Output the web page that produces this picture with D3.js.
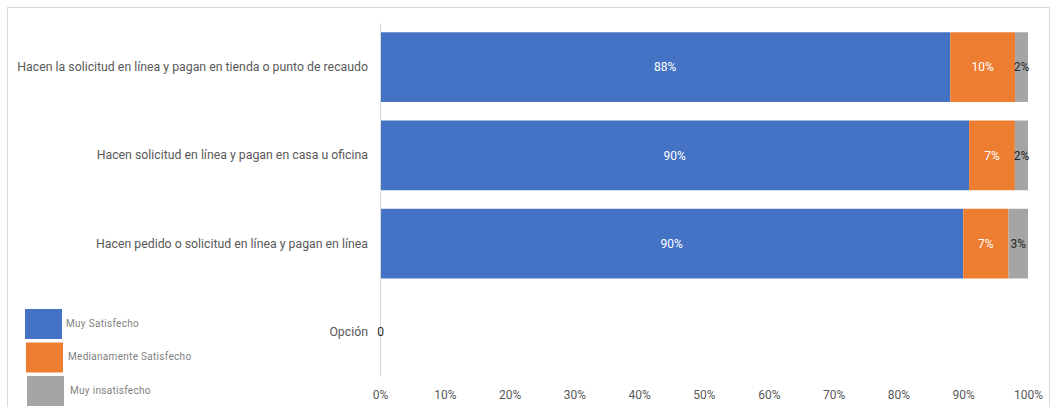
<!DOCTYPE html>
<html>
<head>
<meta charset="utf-8">
<script src="https://cdn.jsdelivr.net/npm/d3@7"></script>
<style>
  body { margin: 0; background: #fff; }
  svg { display: block; font-family: Roboto, "Liberation Sans", sans-serif; }
</style>
</head>
<body>
<div id="chart"></div>
<script>
// data (raw answers, chart is 100% stacked)
var categories = [
    "Hacen la solicitud en línea y pagan en tienda o punto de recaudo",
    "Hacen solicitud en línea y pagan en casa u oficina",
    "Hacen pedido o solicitud en línea y pagan en línea",
    "Opción"
];
var seriesNames = ["Muy Satisfecho", "Medianamente Satisfecho", "Muy insatisfecho"];
var muySatisfecho = [88, 90, 90, 0];
var medianamente = [10, 7, 7, 0];
var muyInsatisfecho = [2, 2, 3, 0];
var xTicks = [0, 0.1, 0.2, 0.3, 0.4, 0.5, 0.6, 0.7, 0.8, 0.9, 1];

var colors = ["#4472C4", "#ED7D31", "#A5A5A5"];
var labelColors = ["#ffffff", "#ffffff", "#262626"];

var svgWidth = 1059;
var svgHeight = 407;
var margin = { top: 23, right: 31, bottom: 31, left: 380 };
var width = svgWidth - margin.left - margin.right;
var height = svgHeight - margin.top - margin.bottom;

var svg = d3.select("#chart")
    .append("svg")
    .attr("width", svgWidth)
    .attr("height", svgHeight);

// chart frame
svg.append("rect")
    .attr("x", 7.5)
    .attr("y", 7.5)
    .attr("width", 1042)
    .attr("height", 420)
    .attr("fill", "none")
    .attr("stroke", "#d9d9d9");

var chartGroup = svg.append("g")
    .attr("transform", `translate(${margin.left}, ${margin.top})`);

// build rows
var rows = categories.map(function(c, i) {
    return {
        name: c,
        values: [muySatisfecho[i], medianamente[i], muyInsatisfecho[i]]
    };
});

var xScale = d3.scaleLinear()
    .domain([0, 1])
    .range([0, width]);

var yScale = d3.scaleBand()
    .domain(categories)
    .range([0, height])
    .paddingInner(0.21)
    .paddingOuter(0.105);

// segments
rows.forEach(function(r) {
    var total = d3.sum(r.values);
    if (total === 0) return;
    var acc = 0;
    r.segs = r.values.map(function(v, k) {
        var s = { k: k, v: v, x0: acc / total, x1: (acc + v) / total };
        acc += v;
        return s;
    });
});

var rowGroups = chartGroup.selectAll(".row")
    .data(rows.filter(d => d.segs))
    .enter()
    .append("g")
    .attr("class", "row")
    .attr("transform", d => `translate(0, ${yScale(d.name)})`);

rowGroups.selectAll("rect")
    .data(d => d.segs)
    .enter()
    .append("rect")
    .attr("x", d => xScale(d.x0))
    .attr("width", d => xScale(d.x1) - xScale(d.x0))
    .attr("height", yScale.bandwidth())
    .attr("fill", d => colors[d.k]);

rowGroups.selectAll("text")
    .data(d => d.segs)
    .enter()
    .append("text")
    .attr("x", d => (xScale(d.x0) + xScale(d.x1)) / 2)
    .attr("y", yScale.bandwidth() / 2)
    .attr("dy", "0.35em")
    .attr("text-anchor", "middle")
    .attr("font-size", "12px")
    .attr("fill", d => labelColors[d.k])
    .text(d => d.v + "%");

// y axis
var leftAxis = d3.axisLeft(yScale).tickSize(0).tickPadding(12);
var yAxisG = chartGroup.append("g").call(leftAxis);
yAxisG.select(".domain").attr("stroke", "#d9d9d9");
yAxisG.selectAll("text")
    .attr("font-size", "12.3px")
    .attr("font-family", "Roboto, sans-serif")
    .attr("fill", "#595959");

// zero label for empty category (drawn over the axis line)
rows.filter(d => !d.segs).forEach(function(r) {
    chartGroup.append("text")
        .attr("x", xScale(0) + 0.5)
        .attr("y", yScale(r.name) + yScale.bandwidth() / 2)
        .attr("dy", "0.35em")
        .attr("text-anchor", "middle")
        .attr("font-size", "12px")
        .attr("fill", "#262626")
        .text(d3.sum(r.values));
});

// x axis
var bottomAxis = d3.axisBottom(xScale)
    .tickValues(xTicks)
    .tickSize(0)
    .tickPadding(14)
    .tickFormat(d3.format(".0%"));
var xAxisG = chartGroup.append("g")
    .attr("transform", `translate(0, ${height})`)
    .call(bottomAxis);
xAxisG.select(".domain").remove();
xAxisG.selectAll("text")
    .attr("font-size", "12px")
    .attr("font-family", "Roboto, sans-serif")
    .attr("fill", "#595959");

// legend
var legend = svg.append("g").attr("transform", "translate(25, 309)");
var legendItems = legend.selectAll("g")
    .data(seriesNames)
    .enter()
    .append("g")
    .attr("transform", (d, i) => `translate(${i * 1}, ${i * 33.5})`);

legendItems.append("rect")
    .attr("width", 37)
    .attr("height", 30)
    .attr("fill", (d, i) => colors[i]);

legendItems.append("text")
    .attr("x", (d, i) => 41 + i)
    .attr("y", 14)
    .attr("dy", "0.35em")
    .attr("font-size", "10px")
    .attr("letter-spacing", "0.3px")
    .attr("fill", "#7f7f7f")
    .text(d => d);
</script>
</body>
</html>
